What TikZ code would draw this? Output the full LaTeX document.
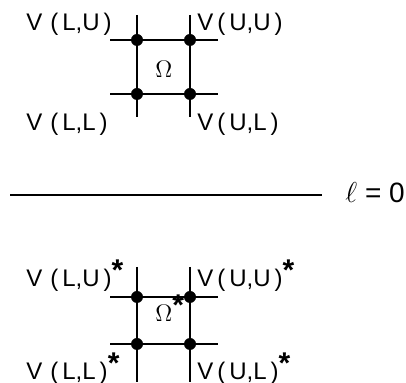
\documentclass[tikz,border=0pt]{standalone}
\usepackage{fontspec}
\setmainfont{Liberation Sans}
\usetikzlibrary{positioning}
\newcommand{\bigstar}{\raisebox{0.55ex}{\fontsize{15}{15}\selectfont\bfseries *}}

\begin{document}
\begin{tikzpicture}[x=0.5pt,y=-0.5pt,
    every node/.style={font=\fontsize{12}{14}\selectfont, inner sep=0pt},
    gridline/.style={line width=1pt},
    vtx/.style={circle, fill, minimum size=6pt, inner sep=0pt},
    lbl/.style={anchor=base west}]
  \useasboundingbox (0,0) rectangle (406,383);
  % two cells: name / top / bottom / upper end / lower end / upper base / lower base / mark
  \foreach \c/\yt/\yb/\ya/\yz/\bu/\bl/\st in
      {a/40/94/15/117/31/131/{}, b/297/344/267/382/287/380/{\bigstar}}{
    \coordinate (\c-tw) at (110,\yt);  \coordinate (\c-te) at (218,\yt);
    \coordinate (\c-bw) at (110,\yb);  \coordinate (\c-be) at (218,\yb);
    \coordinate (\c-ln) at (137,\ya);  \coordinate (\c-ls) at (137,\yz);
    \coordinate (\c-rn) at (190,\ya);  \coordinate (\c-rs) at (190,\yz);
    \draw[gridline] (\c-tw) -- (\c-te);
    \draw[gridline] (\c-bw) -- (\c-be);
    \draw[gridline] (\c-ln) -- (\c-ls);
    \draw[gridline] (\c-rn) -- (\c-rs);
    \node[vtx] (\c-LU) at (137,\yt) {};
    \node[vtx] (\c-UU) at (190,\yt) {};
    \node[vtx] (\c-LL) at (137,\yb) {};
    \node[vtx] (\c-UL) at (190,\yb) {};
    \node[lbl] (\c-vlu) at (26,\bu) {V\,\,(\,L,U\,)\st};
    \node[lbl] (\c-vuu) at (197,\bu) {V\,(\,U,U\,)\st};
    \node[lbl] (\c-vll) at (26,\bl) {V\,\,(\,L,L\,)\st};
    \node[lbl] (\c-vul) at (197,\bl) {V\,(\,U,L\,)\st};
  }
  \node[lbl, font=\fontsize{11.5}{13}\selectfont] (om) at (155,78) {$\Omega$};
  \node[lbl, font=\fontsize{11.5}{13}\selectfont] (oms) at (155,322) {$\Omega$\bigstar};
  % level line
  \node[lbl, font=\fontsize{14}{16}\selectfont] (lev) at (345,203) {$\ell$ = 0};
  \coordinate (lw) at (10,195);
  \coordinate (le) at (322,195);
  \draw[line width=1.1pt] (lw) -- (le);
\end{tikzpicture}
\end{document}
